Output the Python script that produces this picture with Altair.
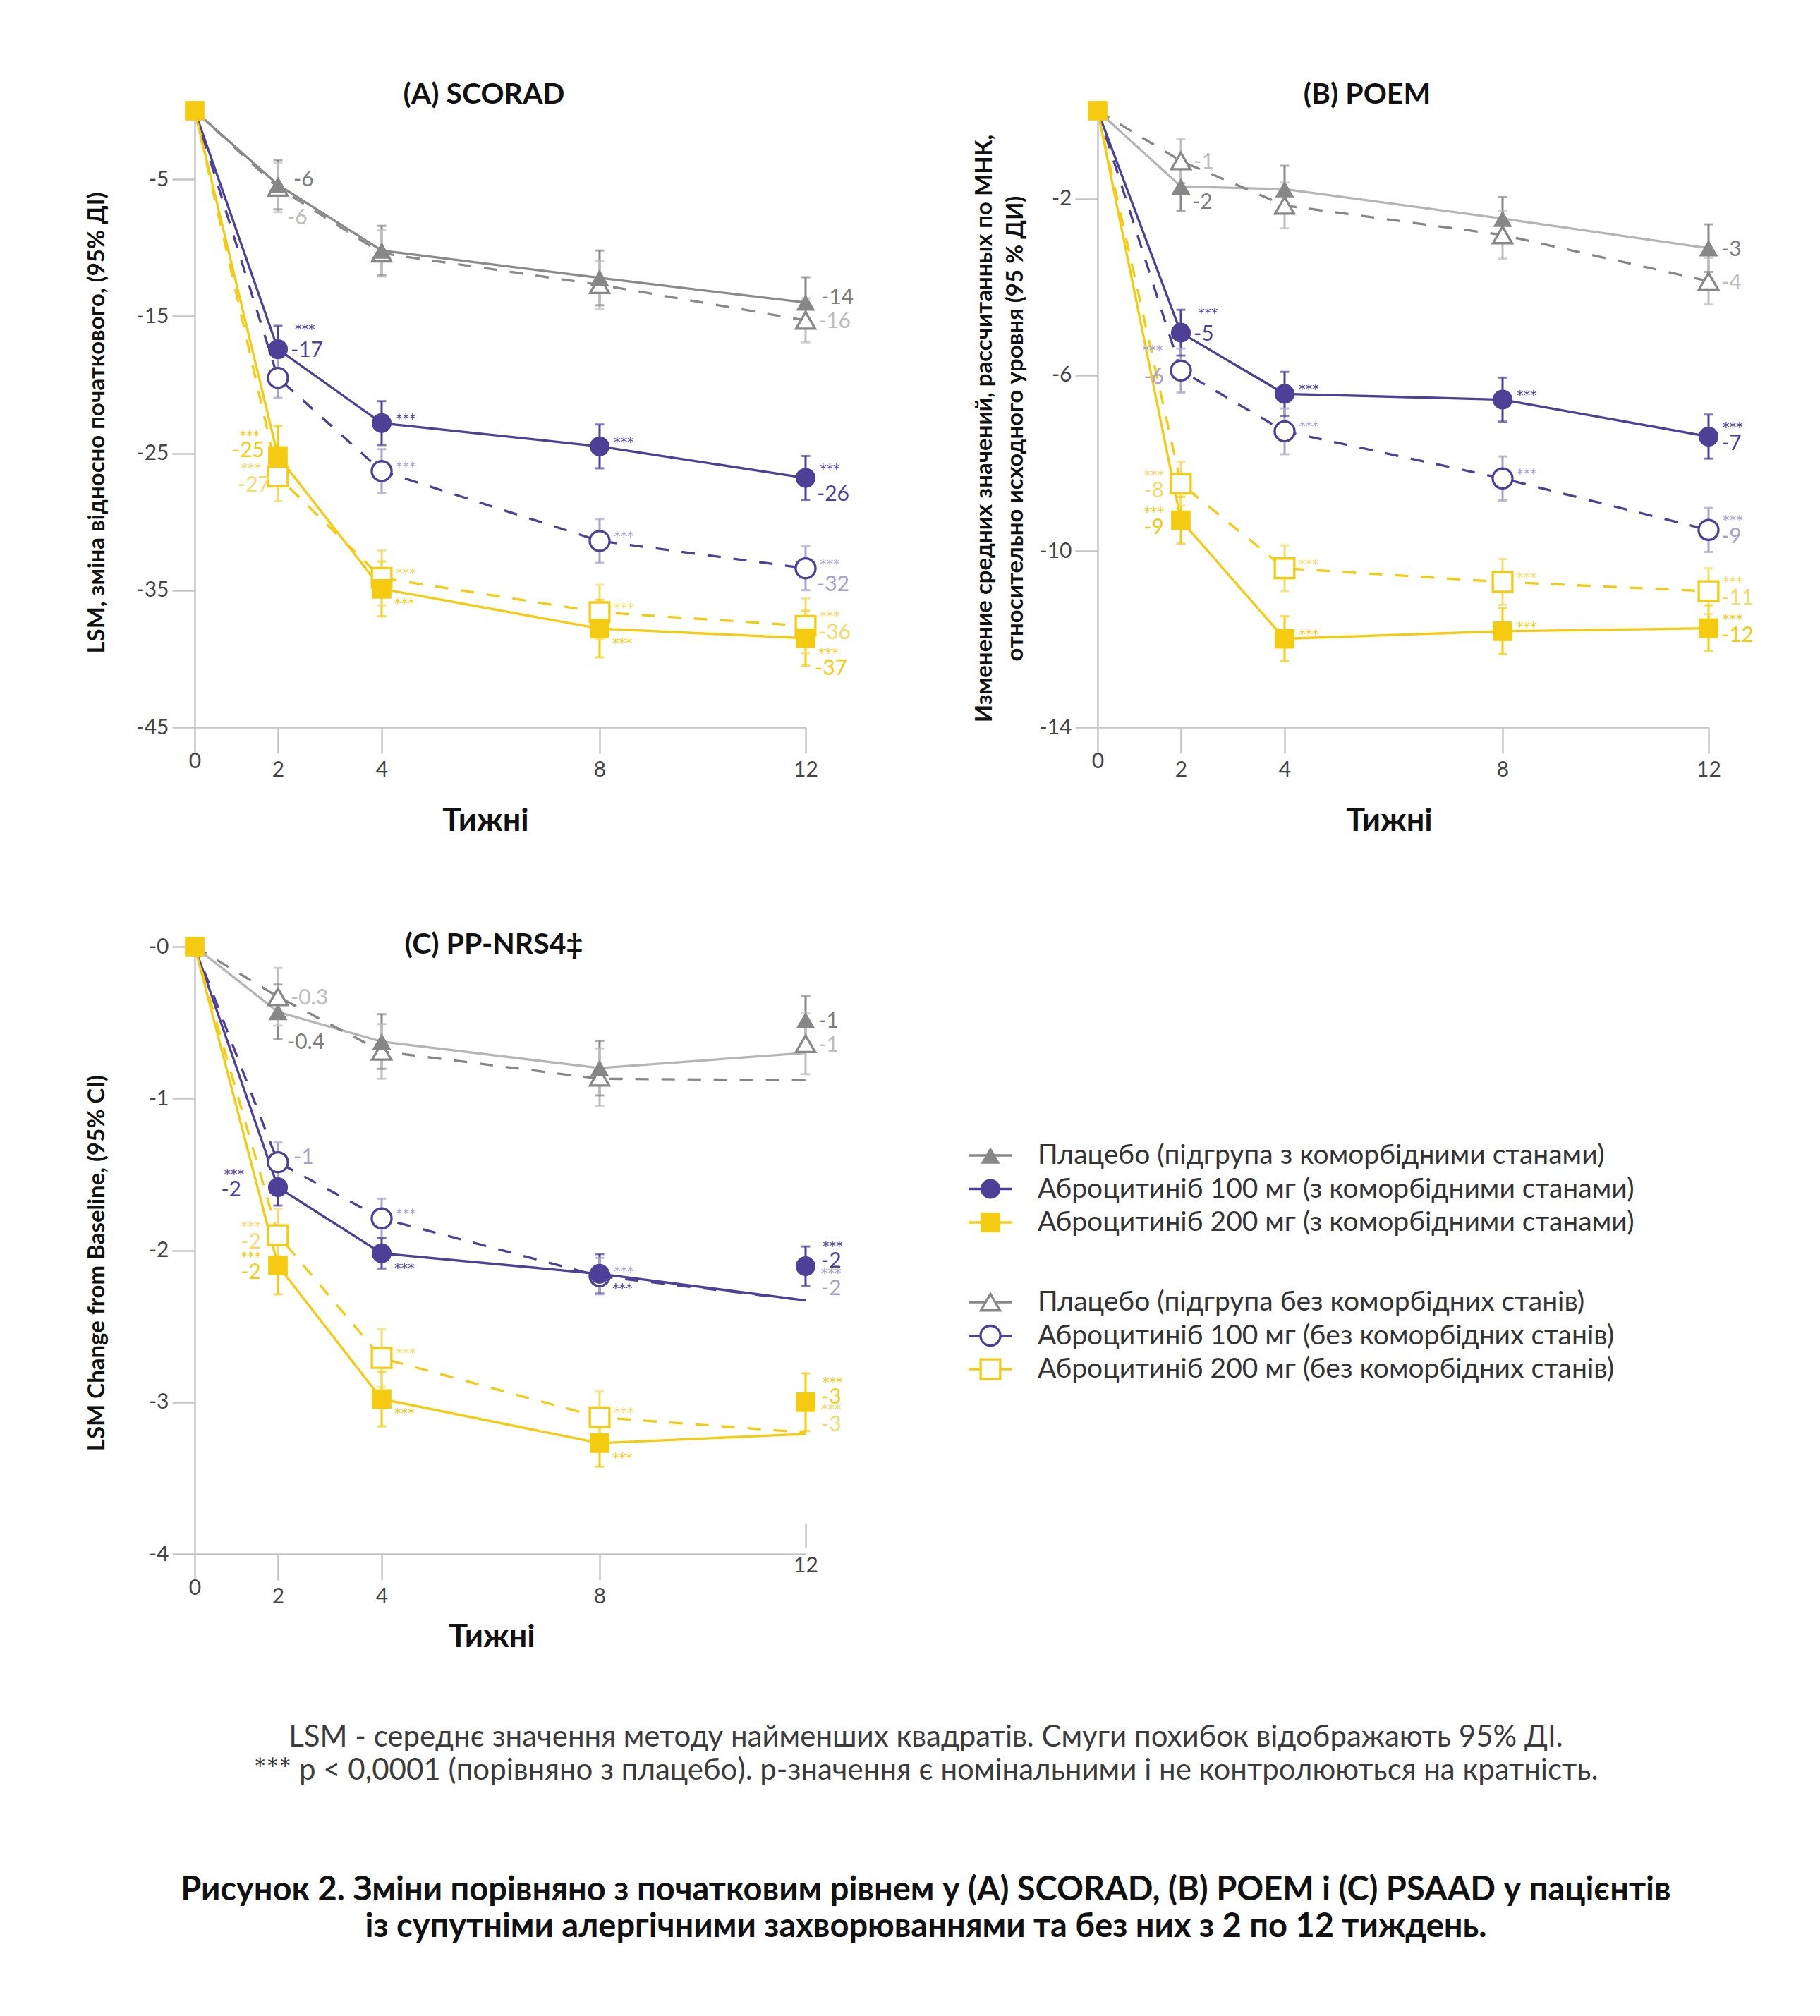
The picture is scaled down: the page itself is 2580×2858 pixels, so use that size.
import altair as alt
import pandas as pd

FONT = "Lato"
STAR_FONT = "DejaVu Sans"
WEEKS = [0, 2, 4, 8, 12]
SERIES = ["pf", "po", "af", "ao", "yf", "yo"]

# ---------------- (A) SCORAD ----------------
A_PF = [0, -5.4, -10.2, -12.2, -14.0]
A_PF_CI = [0, 1.8, 1.8, 2.0, 1.85]
A_PO = [0, -5.6, -10.4, -12.7, -15.3]
A_PO_CI = [0, 1.8, 1.7, 1.75, 1.6]
A_AF = [0, -17.4, -22.8, -24.5, -26.8]
A_AF_CI = [0, 1.7, 1.6, 1.6, 1.6]
A_AO = [0, -19.5, -26.3, -31.4, -33.4]
A_AO_CI = [0, 1.45, 1.6, 1.6, 1.6]
A_YF = [0, -25.2, -34.9, -37.8, -38.5]
A_YF_CI = [0, 2.2, 2.0, 2.1, 2.0]
A_YO = [0, -26.7, -34.1, -36.6, -37.6]
A_YO_CI = [0, 1.8, 2.0, 2.0, 2.0]

# ---------------- (B) POEM ----------------
B_PF = [0, -1.72, -1.78, -2.45, -3.12]
B_PF_CI = [0, 0.55, 0.53, 0.49, 0.54]
B_PO = [0, -1.14, -2.15, -2.82, -3.87]
B_PO_CI = [0, 0.5, 0.52, 0.54, 0.53]
B_AF = [0, -5.04, -6.43, -6.56, -7.40]
B_AF_CI = [0, 0.52, 0.5, 0.5, 0.5]
B_AO = [0, -5.9, -7.28, -8.35, -9.52]
B_AO_CI = [0, 0.5, 0.52, 0.5, 0.5]
B_YF = [0, -9.3, -11.99, -11.82, -11.75]
B_YF_CI = [0, 0.53, 0.51, 0.52, 0.52]
B_YO = [0, -8.47, -10.39, -10.7, -10.91]
B_YO_CI = [0, 0.5, 0.52, 0.52, 0.52]

# ---------------- (C) PP-NRS4 ----------------
C_PF = [0, -0.43, -0.625, -0.80, -0.485]
C_PF_LINE = [0, -0.43, -0.625, -0.80, -0.70]
C_PF_CI = [0, 0.18, 0.18, 0.18, 0.16]
C_PO = [0, -0.33, -0.69, -0.86, -0.64]
C_PO_LINE = [0, -0.33, -0.69, -0.87, -0.88]
C_PO_CI = [0, 0.19, 0.18, 0.19, 0.2]
C_AF = [0, -1.585, -2.02, -2.155, -2.105]
C_AF_LINE = [0, -1.585, -2.02, -2.155, -2.33]
C_AF_CI = [0, 0.12, 0.1, 0.13, 0.13]
C_AO = [0, -1.42, -1.79, -2.17, None]
C_AO_LINE = [0, -1.42, -1.79, -2.17, -2.33]
C_AO_CI = [0, 0.13, 0.13, 0.12, None]
C_YF = [0, -2.10, -2.98, -3.27, -3.0]
C_YF_LINE = [0, -2.10, -2.98, -3.27, -3.21]
C_YF_CI = [0, 0.19, 0.18, 0.155, 0.19]
C_YO = [0, -1.90, -2.71, -3.10, None]
C_YO_LINE = [0, -1.90, -2.71, -3.10, -3.20]
C_YO_CI = [0, 0.17, 0.19, 0.17, None]

# value labels: (series, week, text, placement[, anchor series])
A_LABELS = [
    ("pf", 2, "-6", "vru"), ("po", 2, "-6", "vrdd"), ("pf", 12, "-14", "vru"), ("po", 12, "-16", "vr"),
    ("af", 2, "***", "suu"), ("af", 2, "-17", "vr"), ("af", 4, "***", "sru"), ("af", 8, "***", "sru"),
    ("af", 12, "***", "srs"), ("af", 12, "-26", "vrd"),
    ("ao", 4, "***", "sru"), ("ao", 8, "***", "sru"), ("ao", 12, "***", "sru"), ("ao", 12, "-32", "vrd"),
    ("yf", 2, "***", "sll"), ("yf", 2, "-25", "vlu"), ("yo", 2, "***", "sl"), ("yo", 2, "-27", "vld"),
    ("yf", 4, "***", "srd"), ("yo", 4, "***", "sru"), ("yf", 8, "***", "srd"), ("yo", 8, "***", "sru"),
    ("yf", 12, "***", "srd"), ("yf", 12, "-37", "vrdd"), ("yo", 12, "***", "srs"), ("yo", 12, "-36", "vrs"),
]
B_LABELS = [
    ("po", 2, "-1", "vr"), ("pf", 2, "-2", "vrd"), ("pf", 12, "-3", "vr"), ("po", 12, "-4", "vr"),
    ("af", 2, "***", "suu"), ("af", 2, "-5", "vr"), ("ao", 2, "***", "sll"), ("ao", 2, "-6", "vl"),
    ("af", 4, "***", "sru"), ("af", 8, "***", "sru"), ("af", 12, "***", "srs"), ("af", 12, "-7", "vrs"),
    ("ao", 4, "***", "sru"), ("ao", 8, "***", "sru"), ("ao", 12, "***", "srs"), ("ao", 12, "-9", "vrs"),
    ("yo", 2, "***", "sl"), ("yo", 2, "-8", "vl"), ("yf", 2, "***", "sl"), ("yf", 2, "-9", "vl"),
    ("yo", 4, "***", "sru"), ("yf", 4, "***", "sru"), ("yo", 8, "***", "sru"), ("yf", 8, "***", "sru"),
    ("yo", 12, "***", "srs"), ("yo", 12, "-11", "vrs"), ("yf", 12, "***", "srs"), ("yf", 12, "-12", "vrs"),
]
C_LABELS = [
    ("po", 2, "-0.3", "vr"), ("pf", 2, "-0.4", "vrdd"), ("pf", 12, "-1", "vr"), ("po", 12, "-1", "vr"),
    ("ao", 2, "-1", "vru"), ("af", 2, "***", "slf"), ("af", 2, "-2", "vlf"),
    ("ao", 4, "***", "sru"), ("af", 4, "***", "srd"), ("ao", 8, "***", "sru"), ("af", 8, "***", "srd"),
    ("af", 12, "***", "suu"), ("af", 12, "-2", "vru"), ("ao", 12, "***", "srm", "af"), ("ao", 12, "-2", "vrm", "af"),
    ("yo", 2, "***", "sl"), ("yo", 2, "-2", "vl"), ("yf", 2, "***", "sl"), ("yf", 2, "-2", "vl"),
    ("yo", 4, "***", "sru"), ("yf", 4, "***", "srd"), ("yo", 8, "***", "sru"), ("yf", 8, "***", "srd"),
    ("yf", 12, "***", "suu"), ("yf", 12, "-3", "vru"), ("yo", 12, "***", "srm", "yf"), ("yo", 12, "-3", "vrm", "yf"),
]

LEGEND_ORDER = ["pf", "af", "yf", "po", "ao", "yo"]
LEGEND_LABELS = [
    "Плацебо (підгрупа з коморбідними станами)",
    "Аброцитиніб 100 мг (з коморбідними станами)",
    "Аброцитиніб 200 мг (з коморбідними станами)",
    "Плацебо (підгрупа без коморбідних станів)",
    "Аброцитиніб 100 мг (без коморбідних станів)",
    "Аброцитиніб 200 мг (без коморбідних станів)",
]
FOOTNOTE = [
    "LSM - середнє значення методу найменших квадратів. Смуги похибок відображають 95% ДІ.",
    "*** p < 0,0001 (порівняно з плацебо). p-значення є номінальними і не контролюються на кратність.",
]
CAPTION = [
    "Рисунок 2. Зміни порівняно з початковим рівнем у (А) SCORAD, (В) POEM і (С) PSAAD у пацієнтів",
    "із супутніми алергічними захворюваннями та без них з 2 по 12 тиждень.",
]

# ---------------- styles ----------------
PURPLE, PURPLE_L = "#4e3f97", "#a6a2cb"
YELLOW, YELLOW_L = "#f5cb12", "#f5db6a"
GRAY, GRAY_L, GRAY_LINE_L = "#878787", "#bdbdbd", "#b5b5b5"
AXC = "#c4c4c4"
SHAPE = {"pf": "triangle-up", "po": "triangle-up", "af": "circle", "ao": "circle", "yf": "square", "yo": "square"}
MSIZE = {"triangle-up": 730, "circle": 790, "square": 770}
FILLED = {"pf": 1, "po": 0, "af": 1, "ao": 0, "yf": 1, "yo": 0}
DASHED = {"po", "ao", "yo"}
MARK_COLOR = {"pf": GRAY, "po": GRAY, "af": PURPLE, "ao": PURPLE, "yf": YELLOW, "yo": YELLOW}
ERR_COLOR = {"pf": GRAY, "po": GRAY_L, "af": PURPLE, "ao": PURPLE_L, "yf": YELLOW, "yo": YELLOW_L}
LAB_COLOR = {"pf": "#7d7d7d", "po": GRAY_L, "af": PURPLE, "ao": PURPLE_L, "yf": YELLOW, "yo": YELLOW_L}
LINE_A = {"pf": "#8a8a8a", "po": "#8a8a8a", "af": PURPLE, "ao": PURPLE, "yf": YELLOW, "yo": YELLOW}
LINE_BC = {"pf": GRAY_LINE_L, "po": "#868686", "af": PURPLE, "ao": PURPLE, "yf": YELLOW, "yo": YELLOW}
# placement -> (dx, dy, align, fontSize, font)
KINDS = {
    "vr": (18, 2, "left", 30, FONT), "vrs": (18, 10, "left", 30, FONT), "vru": (22, -7, "left", 30, FONT),
    "vrd": (16, 23, "left", 30, FONT), "vrm": (22, 32, "left", 30, FONT), "vrdd": (13, 43, "left", 30, FONT),
    "vl": (-24, 10, "right", 30, FONT), "vlu": (-19, -7, "right", 30, FONT),
    "vld": (-11, 12, "right", 30, FONT), "vlf": (-52, 4, "right", 30, FONT),
    "sru": (20, -6, "left", 19, STAR_FONT), "srs": (20, -13, "left", 19, STAR_FONT),
    "srd": (18, 21, "left", 19, STAR_FONT), "srm": (22, 10, "left", 19, STAR_FONT),
    "suu": (24, -28, "left", 19, STAR_FONT), "sl": (-24, -12, "right", 19, STAR_FONT),
    "sll": (-26, -28, "right", 19, STAR_FONT), "slf": (-48, -18, "right", 19, STAR_FONT),
}
X_RANGE = [0, 118, 265, 574, 866]
PW = 866


def panel(vals, cis, lines, line_col, labels, ydom, yticks, height, title, title_dx, title_dy,
          ytitle, ytitle_x, ytitle_y, xtitle_x, xtitle_y, raised_last=False):
    line_rows, pt_rows, lab_rows = [], [], []
    for s in SERIES:
        for w, v in zip(WEEKS, lines[s]):
            if v is not None:
                line_rows.append(dict(series=s, week=w, value=v, color=line_col[s], dash=int(s in DASHED)))
        for w, v, c in zip(WEEKS, vals[s], cis[s]):
            if v is not None:
                pt_rows.append(dict(series=s, week=w, value=v, lo=v - c, hi=v + c, shape=SHAPE[s],
                                    size=MSIZE[SHAPE[s]], mcol=MARK_COLOR[s], ecol=ERR_COLOR[s],
                                    filled=FILLED[s]))
    for lab in labels:
        s, w, t, k = lab[:4]
        a = lab[4] if len(lab) > 4 else s
        lab_rows.append(dict(week=w, value=vals[a][WEEKS.index(w)], text=t, kind=k, color=LAB_COLOR[s]))
    dl, dp, dt = pd.DataFrame(line_rows), pd.DataFrame(pt_rows), pd.DataFrame(lab_rows)

    xs = alt.Scale(domain=WEEKS, range=X_RANGE, nice=False, zero=False)
    ys = alt.Scale(domain=ydom, nice=False, zero=False)
    pad_cond = [{"test": "datum.value == 0", "value": -4}]
    tick_op = 1
    if raised_last:
        pad_cond.append({"test": f"datum.value == {WEEKS[-1]}", "value": -36})
        tick_op = {"condition": {"test": f"datum.value == {WEEKS[-1]}", "value": 0}, "value": 1}
    xaxis = alt.Axis(values=WEEKS, labelExpr="'' + datum.value", title="Тижні", grid=False,
                     domainColor=AXC, domainWidth=2.5, tickColor=AXC, tickWidth=2.5, tickSize=37,
                     tickOpacity=tick_op,
                     labelPadding={"condition": pad_cond, "value": 8}, labelFont=FONT,
                     labelFontSize=30, labelColor="#444",
                     labelFlush=False, labelOverlap=False, titleFont=FONT, titleFontSize=45,
                     titleFontWeight="bold", titleColor="#111", titleX=xtitle_x, titleY=xtitle_y,
                     titleBaseline="middle", titleAlign="center")
    yaxis = alt.Axis(values=yticks, labelExpr="datum.value == 0 ? '-0' : '' + datum.value",
                     title=ytitle, grid=False, domainColor=AXC, domainWidth=2.5, tickColor=AXC,
                     tickWidth=2.5, tickSize=32, labelPadding=5, labelFont=FONT, labelFontSize=30,
                     labelColor="#444", labelFlush=False, labelOverlap=False, titleFont=FONT,
                     titleFontSize=33, titleFontWeight="bold", titleColor="#111", titleX=ytitle_x,
                     titleY=ytitle_y, titleAngle=270, titleBaseline="middle", titleAlign="center",
                     titleLineHeight=44)
    X = alt.X("week:Q", scale=xs, axis=xaxis)
    Xn = alt.X("week:Q", scale=xs, axis=None) if raised_last else alt.X("week:Q", scale=xs)
    Y = alt.Y("value:Q", scale=ys, axis=yaxis)
    Yn = alt.Y("value:Q", scale=ys)

    solid = alt.Chart(dl).transform_filter("datum.dash == 0").mark_line(strokeWidth=3.3).encode(
        x=X, y=Y, detail="series:N", color=alt.Color("color:N", scale=None))
    dashed = alt.Chart(dl).transform_filter("datum.dash == 1").mark_line(
        strokeWidth=3.3, strokeDash=[19, 18]).encode(
        x=Xn, y=Yn, detail="series:N", color=alt.Color("color:N", scale=None))
    eb = alt.Chart(dp).transform_filter("datum.week > 0")
    rule = eb.mark_rule(strokeWidth=3).encode(
        x=Xn, y=alt.Y("lo:Q", scale=ys), y2="hi:Q", color=alt.Color("ecol:N", scale=None))
    cap_lo = eb.mark_tick(orient="horizontal", size=13, thickness=3).encode(
        x=Xn, y=alt.Y("lo:Q", scale=ys), color=alt.Color("ecol:N", scale=None))
    cap_hi = eb.mark_tick(orient="horizontal", size=13, thickness=3).encode(
        x=Xn, y=alt.Y("hi:Q", scale=ys), color=alt.Color("ecol:N", scale=None))
    enc = dict(x=Xn, y=Yn, shape=alt.Shape("shape:N", scale=None), size=alt.Size("size:Q", scale=None),
               color=alt.Color("mcol:N", scale=None))
    p_open = alt.Chart(dp).transform_filter("datum.week > 0 && datum.filled == 0").mark_point(
        filled=False, fill="white", fillOpacity=1, strokeWidth=3.3, opacity=1).encode(**enc)
    p_fill = alt.Chart(dp).transform_filter("datum.week > 0 && datum.filled == 1").mark_point(
        filled=True, opacity=1).encode(**enc)
    p_zero = alt.Chart(dp).transform_filter("datum.week == 0 && datum.series == 'yf'").mark_point(
        filled=True, opacity=1).encode(**enc)
    layers = [solid, dashed, rule, cap_lo, cap_hi, p_open, p_fill, p_zero]
    kinds_used = set(dt["kind"])
    for k, (dx, dy, al, fs, fnt) in KINDS.items():
        if k not in kinds_used:
            continue
        layers.append(alt.Chart(dt).transform_filter(f"datum.kind == '{k}'").mark_text(
            dx=dx, dy=dy, align=al, baseline="middle", font=fnt, fontSize=fs).encode(
            x=Xn, y=Yn, text="text:N", color=alt.Color("color:N", scale=None)))
    if raised_last:
        # the last week's tick is drawn upward from just above the axis line, as in the source figure
        top_axis = alt.Axis(orient="top", values=[WEEKS[-1]], labels=False, domain=False, grid=False,
                            title=None, tickSize=35, tickColor=AXC, tickWidth=2.5, offset=-(height - 9))
        layers.append(alt.Chart(dl).transform_filter(f"datum.week == {WEEKS[-1]}").mark_point(opacity=0).encode(
            x=alt.X("week:Q", scale=xs, axis=top_axis), y=Yn))
    out = alt.layer(*layers)
    if raised_last:
        out = out.resolve_axis(x="independent")
    return out.properties(
        width=PW, height=height,
        title=alt.TitleParams(text=title, font=FONT, fontSize=41, fontWeight="bold", color="#111",
                              anchor="middle", frame="group", dx=title_dx, dy=title_dy, offset=6))


A_VALS = dict(pf=A_PF, po=A_PO, af=A_AF, ao=A_AO, yf=A_YF, yo=A_YO)
A_CIS = dict(pf=A_PF_CI, po=A_PO_CI, af=A_AF_CI, ao=A_AO_CI, yf=A_YF_CI, yo=A_YO_CI)
B_VALS = dict(pf=B_PF, po=B_PO, af=B_AF, ao=B_AO, yf=B_YF, yo=B_YO)
B_CIS = dict(pf=B_PF_CI, po=B_PO_CI, af=B_AF_CI, ao=B_AO_CI, yf=B_YF_CI, yo=B_YO_CI)
C_VALS = dict(pf=C_PF, po=C_PO, af=C_AF, ao=C_AO, yf=C_YF, yo=C_YO)
C_CIS = dict(pf=C_PF_CI, po=C_PO_CI, af=C_AF_CI, ao=C_AO_CI, yf=C_YF_CI, yo=C_YO_CI)
C_LINES = dict(pf=C_PF_LINE, po=C_PO_LINE, af=C_AF_LINE, ao=C_AO_LINE, yf=C_YF_LINE, yo=C_YO_LINE)

pa = panel(A_VALS, A_CIS, A_VALS, LINE_A, A_LABELS, [-45, 0], [-5, -15, -25, -35, -45], 874,
           "(A) SCORAD", -23, 19, "LSM, зміна відносно початкового, (95% ДІ)", -139, 442, 412, 132)
pb = panel(B_VALS, B_CIS, B_VALS, LINE_BC, B_LABELS, [-14, 0], [-2, -6, -10, -14], 874,
           "(B) POEM", -51, 19,
           ["Изменение средних значений, рассчитанных по МНК,", "относительно исходного уровня (95 % ДИ)"],
           -161, 450, 413, 132)
pc = panel(C_VALS, C_CIS, C_LINES, LINE_BC, C_LABELS, [-4, 0], [0, -1, -2, -3, -4], 861,
           "(C) PP-NRS4‡", -9, 40, "LSM Change from Baseline, (95% CI)", -139, 448, 421, 117,
           raised_last=True)

# ---------------- legend (drawn as a small chart) ----------------
LEG_SLOTS = [0, 1, 2, 4.38, 5.38, 6.38]
leg = pd.DataFrame(dict(series=LEGEND_ORDER, label=LEGEND_LABELS, slot=LEG_SLOTS))
leg["shape"] = [SHAPE[s] for s in LEGEND_ORDER]
leg["size"] = [MSIZE[SHAPE[s]] for s in LEGEND_ORDER]
leg["mcol"] = [MARK_COLOR[s] for s in LEGEND_ORDER]
leg["filled"] = [FILLED[s] for s in LEGEND_ORDER]
LEG_H = 861
LEG_TOP = 296
ls = alt.Scale(domain=[-LEG_TOP / 47.5, (LEG_H - LEG_TOP) / 47.5], reverse=True, nice=False, zero=False)
LY = alt.Y("slot:Q", scale=ls, axis=None)
LX0 = -183  # legend column starts left of the grid column
lenc = dict(x=alt.value(LX0 + 31), y=LY, shape=alt.Shape("shape:N", scale=None),
            size=alt.Size("size:Q", scale=None), color=alt.Color("mcol:N", scale=None))
l_rule = alt.Chart(leg).mark_rule(strokeWidth=3.3).encode(
    x=alt.value(LX0), x2=alt.value(LX0 + 62), y=LY, color=alt.Color("mcol:N", scale=None))
l_open = alt.Chart(leg).transform_filter("datum.filled == 0").mark_point(
    filled=False, fill="white", fillOpacity=1, strokeWidth=3.3, opacity=1).encode(**lenc)
l_fill = alt.Chart(leg).transform_filter("datum.filled == 1").mark_point(filled=True, opacity=1).encode(**lenc)
l_text = alt.Chart(leg).mark_text(align="left", baseline="middle", font=FONT, fontSize=39,
                                  color="#333").encode(x=alt.value(LX0 + 98), y=LY, text="label:N")
legend = alt.layer(l_rule, l_open, l_fill, l_text).properties(width=700, height=LEG_H)

chart = alt.concat(pa, pb, pc, legend, columns=2, spacing={"row": 311, "column": 414},
                   bounds="flush").properties(
    title=alt.TitleParams(text=FOOTNOTE, subtitle=CAPTION, orient="bottom", anchor="middle",
                          font=FONT, fontSize=42, fontWeight="normal", color="#3b3b3b", lineHeight=47,
                          subtitleFont=FONT, subtitleFontSize=47, subtitleFontWeight="bold",
                          subtitleColor="#111", subtitleLineHeight=52, subtitlePadding=125, offset=100,
                          dx=9),
    padding={"left": 112, "top": 106, "right": 20, "bottom": 20},
    background="white",
).configure_view(stroke=None)

chart.save("out.html", embed_options={"renderer": "svg", "actions": False})
